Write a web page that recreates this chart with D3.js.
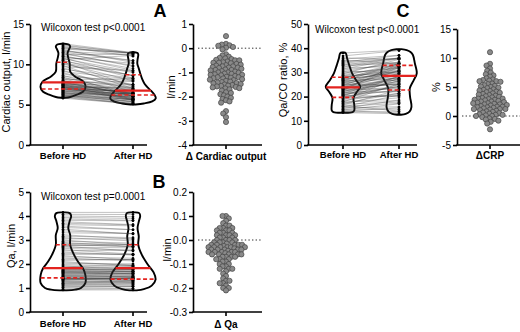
<!DOCTYPE html>
<html><head><meta charset="utf-8">
<script src="https://cdn.jsdelivr.net/npm/d3@7"></script>
<style>
body{margin:0;background:#fff}
svg{display:block}
text{font-family:"Liberation Sans",Arial,Helvetica,sans-serif;fill:#000}
</style>
</head><body>
<svg id="c" width="520" height="332"></svg>
<script>
// ---------------- DATA ----------------
const groups = ["Before HD", "After HD"];

// Panel A: cardiac output (l/min), paired before HD and change
const coBefore = [5.8,5.9,6.0,6.05,6.1,6.15,6.2,6.25,6.3,6.35,6.4,6.45,6.5,6.55,6.6,6.65,6.7,6.75,6.8,6.85,6.9,6.93,
6.96,7.0,7.03,7.06,7.1,7.13,7.16,7.2,7.23,7.26,7.3,7.33,7.36,7.4,7.43,7.46,7.5,7.54,7.58,7.62,7.66,7.7,7.75,
7.8,7.85,7.9,7.95,8.0,8.1,8.2,8.3,8.4,8.5,8.65,8.8,8.95,9.1,9.25,9.4,9.55,9.7,9.85,10.0,10.1,10.2,
10.3,10.4,10.5,10.6,10.7,10.8,10.9,11.0,11.1,11.2,11.3,11.4,11.5,11.6,11.7,11.8,11.9,12.0,12.1,12.2,12.3,12.4,12.55];
const coDelta = [-0.7,-0.8,-0.9,-0.6,-1.0,-0.5,-0.85,-1.05,0.1,-0.75,-1.1,-0.45,-0.95,-1.2,-0.62,-0.3,-1.15,-0.88,0.02,-1.25,-0.58,-0.72,
-1.3,-0.4,-1.4,0.15,-1.02,-1.5,-0.65,-1.45,-0.8,-1.55,-0.25,-1.6,-0.92,-1.35,-0.68,-1.65,-0.05,-1.18,-1.7,-0.82,-1.28,0.18,-1.48,
-1.75,-0.35,-1.82,-1.08,-1.9,0.12,-1.95,-1.22,-2.0,-0.55,-2.6,-1.32,-2.05,-0.97,-2.7,-1.12,-2.1,-0.48,-2.85,-1.38,-2.15,-1.58,
-3.05,-1.42,-2.2,0.5,-1.62,-2.25,-0.78,-1.52,-1.85,0.05,-1.44,-1.66,-1.06,-0.42,-1.24,-1.56,-0.5,-0.6,-0.75,-1.2,-0.9,-1.0,-1.1];
const coViolinBefore = [[12.56,0.06],[12.45,0.24],[12.2,0.3],[11.8,0.24],[11.4,0.19],[10.8,0.22],[10.1,0.28],[9.1,0.3],[8.5,0.5],[7.85,0.85],[7.2,0.94],[6.6,0.83],[6.2,0.55],[5.95,0.3],[5.85,0.08]];
const coViolinAfter = [[11.5,0.06],[11.4,0.19],[11.2,0.22],[10.6,0.19],[10.1,0.18],[9.5,0.24],[8.9,0.3],[8.2,0.38],[7.6,0.48],[7.1,0.62],[6.7,0.76],[6.2,0.9],[5.8,0.95],[5.4,0.8],[5.15,0.45],[5.02,0.1]];
const coQuartBefore = [6.94, 7.77, 10.25];
const coQuartAfter = [6.2, 6.73, 8.7];
const coTicks = [0, 5, 10, 15];
const coDeltaTicks = [-4, -3, -2, -1, 0, 1];

// Panel B: access flow Qa (l/min)
const qaBefore = [0.92,0.95,1.0,1.03,1.06,1.1,1.12,1.15,1.18,1.2,1.22,1.25,1.27,1.3,1.32,1.34,1.36,1.37,1.38,1.39,1.4,1.41,
1.43,1.45,1.47,1.49,1.5,1.52,1.54,1.56,1.58,1.6,1.62,1.63,1.65,1.67,1.68,1.7,1.72,1.74,1.75,1.77,1.79,1.8,1.82,
1.85,1.88,1.92,1.96,2.0,2.05,2.1,2.15,2.2,2.25,2.3,2.35,2.4,2.45,2.5,2.55,2.6,2.65,2.7,2.74,2.77,2.79,
2.82,2.86,2.9,2.95,3.0,3.05,3.1,3.16,3.22,3.3,3.38,3.45,3.52,3.58,3.64,3.7,3.76,3.82,3.88,3.94,4.0,4.07,4.15];
const qaDelta = [0.0,0.02,-0.01,0.03,0.01,-0.02,0.04,-0.03,0.05,-0.01,0.06,-0.04,0.02,-0.05,0.1,-0.02,0.08,-0.06,0.03,-0.03,0.01,-0.07,
-0.04,0.04,-0.08,0.0,-0.05,0.09,-0.03,-0.1,0.05,-0.06,-0.02,0.07,-0.09,-0.04,0.02,-0.11,-0.05,0.03,-0.07,-0.015,0.1,-0.035,-0.12,
-0.03,0.06,-0.16,-0.05,0.01,-0.08,-0.17,0.04,-0.02,-0.12,-0.06,-0.18,0.0,-0.045,-0.13,0.02,-0.19,-0.07,-0.025,-0.2,0.05,-0.055,
-0.1,-0.04,-0.17,-0.08,-0.21,-0.01,-0.14,-0.06,-0.18,-0.03,-0.11,-0.2,-0.09,-0.15,-0.05,-0.07,-0.12,-0.02,-0.06,-0.04,-0.03,-0.01,0.0];
const qaViolinBefore = [[4.15,0.1],[4.12,0.28],[4.0,0.34],[3.8,0.28],[3.5,0.22],[3.2,0.3],[2.8,0.3],[2.4,0.45],[2.1,0.62],[1.82,0.83],[1.55,0.93],[1.2,0.93],[1.0,0.75],[0.93,0.5],[0.9,0.15]];
const qaViolinAfter = [[4.15,0.1],[4.12,0.26],[4.0,0.3],[3.8,0.25],[3.5,0.19],[3.15,0.24],[2.8,0.22],[2.4,0.36],[2.0,0.6],[1.65,0.86],[1.35,0.94],[1.1,0.78],[0.95,0.45],[0.9,0.15]];
const qaQuartBefore = [1.42, 1.83, 2.8];
const qaQuartAfter = [1.37, 1.83, 2.8];
const qaTicks = [0, 1, 2, 3, 4, 5];
const qaDeltaTicks = [-0.3, -0.2, -0.1, 0.0, 0.1, 0.2];

// Panel C: Qa/CO ratio (%)
const ratioBefore = [13.4,13.6,13.9,14.2,14.5,14.8,15.1,15.4,15.7,16.0,16.3,16.6,16.9,17.2,17.5,17.8,18.1,18.4,18.7,19.0,19.3,19.6,
19.8,20.0,20.2,20.4,20.6,20.8,21.0,21.2,21.4,21.6,21.8,22.0,22.2,22.4,22.6,22.8,23.0,23.1,23.2,23.3,23.4,23.6,23.7,
23.9,24.0,24.2,24.4,24.6,24.8,25.0,25.2,25.4,25.6,25.8,26.0,26.2,26.4,26.6,26.8,27.0,27.2,27.4,27.6,27.8,27.95,
28.2,28.5,28.8,29.1,29.4,29.8,30.2,30.6,31.0,31.4,31.8,32.2,32.6,33.0,33.4,33.8,34.2,34.6,35.0,35.5,36.0,36.8,38.0];
const ratioDelta = [-0.5,0.2,1.5,-1.0,2.5,0.0,3.5,0.4,5.0,1.2,-2.3,6.2,0.8,4.2,2.0,7.5,0.1,3.0,9.0,1.8,5.6,0.6,
4.5,2.8,8.2,-0.2,6.0,3.3,1.1,7.0,2.2,4.8,0.3,6.5,3.7,1.6,11.0,2.6,5.2,0.0,4.0,8.7,2.9,1.4,5.9,
3.1,6.8,1.0,4.4,7.8,2.1,5.5,-0.4,3.9,6.3,1.7,4.9,2.4,7.2,0.9,3.6,5.3,2.7,6.1,1.3,4.6,3.2,
2.3,5.1,0.5,3.4,6.0,1.9,4.1,-0.8,2.5,4.3,0.7,3.8,1.5,3.0,0.2,2.0,2.8,1.2,-1.3,1.6,-0.6,2.2,1.2];
const ratioViolinBefore = [[38.2,0.04],[37.9,0.12],[35.8,0.17],[33,0.26],[29.6,0.38],[26.9,0.54],[24.1,0.72],[22,0.58],[19.5,0.44],[16.5,0.47],[14.3,0.47],[13.6,0.4],[13.3,0.1]];
const ratioViolinAfter = [[39.6,0.1],[39.2,0.32],[38.4,0.48],[37.2,0.58],[33.8,0.66],[29.6,0.74],[26.9,0.62],[23.4,0.45],[20,0.46],[15.8,0.52],[13.8,0.44],[12.9,0.28],[12.5,0.08]];
const ratioQuartBefore = [19.7, 23.8, 28];
const ratioQuartAfter = [22.7, 28.6, 32.9];
const ratioTicks = [0, 10, 20, 30, 40, 50];
const ratioDeltaTicks = [-5, 0, 5, 10, 15];

// ---------------- DRAWING ----------------
const svg = d3.select("#c");
const RED = "#e3231f";
const HW = 24; // violin max half width, px
const intFmt = d => String(d);

function styleAxis(g) {
  g.selectAll(".domain").attr("stroke", "#000").attr("stroke-width", 1.6);
  g.selectAll(".tick line").attr("stroke", "#000").attr("stroke-width", 1.6);
  g.selectAll(".tick text").attr("font-size", 10).attr("fill", "#000")
   .style("font-family", '"Liberation Sans",Arial,sans-serif');
}

function yTitle(text, x, y) {
  svg.append("text").attr("transform", `translate(${x},${y}) rotate(-90)`)
    .attr("text-anchor", "middle").attr("font-size", 11).text(text);
}

function violinPanel(c) {
  const y = d3.scaleLinear().domain(c.domain).range([c.yBot, c.yTop]);
  const x = d3.scalePoint().domain(groups).range(c.catRange);
  const after = c.before.map((v, i) => v + c.delta[i]);
  const g = svg.append("g");

  const vdata = [c.violins[0], c.violins[1]];
  vdata.forEach((prof, k) => {
    const cx = x(groups[k]);
    const area = d3.area()
      .y(d => y(d[0]))
      .x0(d => cx - d[1] * HW)
      .x1(d => cx + d[1] * HW)
      .curve(d3.curveCatmullRom.alpha(0.5));
    g.append("path").datum(prof).attr("d", area)
      .attr("fill", "#fff").attr("stroke", "#000").attr("stroke-width", 1.9)
      .attr("stroke-linejoin", "round");
  });

  g.append("g").selectAll("line").data(c.before).join("line")
    .attr("x1", x(groups[0])).attr("x2", x(groups[1]))
    .attr("y1", d => y(d)).attr("y2", (d, i) => y(after[i]))
    .attr("stroke", "#333").attr("stroke-opacity", 0.5).attr("stroke-width", 0.6);

  [c.before, after].forEach((vals, k) => {
    g.append("g").selectAll("circle").data(vals).join("circle")
      .attr("cx", x(groups[k])).attr("cy", d => y(d)).attr("r", 1.3)
      .attr("fill", "#000");
  });

  vdata.forEach((prof, k) => {
    const cx = x(groups[k]);
    const wAt = d3.scaleLinear().domain(prof.map(d => d[0])).range(prof.map(d => d[1] * HW));
    c.quarts[k].forEach((q, j) => {
      const w = wAt(q);
      g.append("line").attr("x1", cx - w).attr("x2", cx + w)
        .attr("y1", y(q)).attr("y2", y(q))
        .attr("stroke", RED)
        .attr("stroke-width", j === 1 ? 2.2 : 1.6)
        .attr("stroke-dasharray", j === 1 ? null : "4,2.5");
    });
  });

  const ya = svg.append("g").attr("transform", `translate(${c.x0},0)`)
    .call(d3.axisLeft(y).tickValues(c.ticks).tickSize(4).tickSizeOuter(0).tickPadding(2).tickFormat(intFmt));
  styleAxis(ya);
  svg.append("line").attr("x1", c.x0 - 0.8).attr("x2", c.x1).attr("y1", c.yBot).attr("y2", c.yBot)
    .attr("stroke", "#000").attr("stroke-width", 1.6);
  groups.forEach(gname => {
    svg.append("line").attr("x1", x(gname)).attr("x2", x(gname))
      .attr("y1", c.yBot).attr("y2", c.yBot + 4).attr("stroke", "#000").attr("stroke-width", 1.6);
    svg.append("text").attr("x", x(gname)).attr("y", c.catLabelY).attr("text-anchor", "middle")
      .attr("font-size", 9.5).attr("font-weight", "bold").text(gname);
  });
  yTitle(c.yTitle, c.yTitleX, c.yTitleY);
  svg.append("text").attr("x", c.noteX).attr("y", c.noteY).attr("font-size", 10).text(c.note);
}

function swarm(values, y, cx, minDist) {
  const pts = values.map(v => ({ v, y: y(v) })).sort((a, b) => a.y - b.y);
  const placed = [];
  pts.forEach(p => {
    let chosen = 0;
    for (let s = 0; s < 80; s++) {
      const off = (s % 2 === 0 ? 1 : -1) * Math.ceil(s / 2) * 0.7;
      const ok = placed.every(q => {
        const dy = q.y - p.y, dx = q.x - (cx + off);
        return dx * dx + dy * dy >= minDist * minDist;
      });
      if (ok) { chosen = off; break; }
    }
    p.x = cx + chosen;
    placed.push(p);
  });
  return placed;
}

function deltaPanel(c) {
  const y = d3.scaleLinear().domain(c.domain).range([c.yBot, c.yTop]);
  const x = d3.scalePoint().domain([c.label]).range([c.cx, c.cx]);
  svg.append("line").attr("x1", c.x0 + 5).attr("x2", c.x1).attr("y1", y(0)).attr("y2", y(0))
    .attr("stroke", "#333").attr("stroke-width", 1).attr("stroke-dasharray", "1.4,2.2");
  const pts = swarm(c.values, y, x(c.label), c.spread);
  svg.append("g").selectAll("circle").data(pts).join("circle")
    .attr("cx", d => d.x).attr("cy", d => d.y).attr("r", 2.6)
    .attr("fill", "#8a8a8a").attr("stroke", "#454545").attr("stroke-width", 0.7);
  const ya = svg.append("g").attr("transform", `translate(${c.x0},0)`)
    .call(d3.axisLeft(y).tickValues(c.ticks).tickSize(4).tickSizeOuter(0).tickPadding(2)
      .tickFormat(c.fmt || intFmt));
  styleAxis(ya);
  svg.append("line").attr("x1", c.x0 - 0.8).attr("x2", c.x1).attr("y1", c.yBot).attr("y2", c.yBot)
    .attr("stroke", "#000").attr("stroke-width", 1.6);
  svg.append("line").attr("x1", x(c.label)).attr("x2", x(c.label))
    .attr("y1", c.yBot).attr("y2", c.yBot + 4).attr("stroke", "#000").attr("stroke-width", 1.6);
  svg.append("text").attr("x", x(c.label)).attr("y", c.labelY).attr("text-anchor", "middle")
    .attr("font-size", 10).attr("font-weight", "bold").text(c.label);
  yTitle(c.yTitle, c.yTitleX, c.yTitleY);
}

function letter(t, x, y) {
  svg.append("text").attr("x", x).attr("y", y).attr("text-anchor", "middle")
    .attr("font-size", 18).attr("font-weight", "bold").text(t);
}

// Panel A
violinPanel({ x0: 30, x1: 147, yTop: 24, yBot: 145, domain: [0, 15], ticks: coTicks,
  catRange: [63, 133], before: coBefore, delta: coDelta,
  violins: [coViolinBefore, coViolinAfter], quarts: [coQuartBefore, coQuartAfter],
  catLabelY: 159, yTitle: "Cardiac output, l/min", yTitleX: 10, yTitleY: 82,
  note: "Wilcoxon test p<0.0001", noteX: 41, noteY: 31 });
deltaPanel({ x0: 193, x1: 262, yTop: 24, yBot: 145, domain: [-4, 1], ticks: coDeltaTicks,
  cx: 226, values: coDelta, spread: 3.7, label: "\u0394 Cardiac output", labelY: 160,
  yTitle: "l/min", yTitleX: 175, yTitleY: 87 });
letter("A", 160, 17);

// Panel B
violinPanel({ x0: 30, x1: 147, yTop: 192, yBot: 312, domain: [0, 5], ticks: qaTicks,
  catRange: [63, 133], before: qaBefore, delta: qaDelta,
  violins: [qaViolinBefore, qaViolinAfter], quarts: [qaQuartBefore, qaQuartAfter],
  catLabelY: 327, yTitle: "Qa, l/min", yTitleX: 15, yTitleY: 246,
  note: "Wilcoxon test p=0.0001", noteX: 41, noteY: 200 });
deltaPanel({ x0: 193, x1: 262, yTop: 192, yBot: 312, domain: [-0.3, 0.2], ticks: qaDeltaTicks,
  cx: 226, values: qaDelta, spread: 3.4, label: "\u0394 Qa", labelY: 328, fmt: d => d.toFixed(1),
  yTitle: "l/min", yTitleX: 171, yTitleY: 250 });
letter("B", 159, 188);

// Panel C
violinPanel({ x0: 308, x1: 417, yTop: 24, yBot: 145, domain: [0, 50], ticks: ratioTicks,
  catRange: [343, 399], before: ratioBefore, delta: ratioDelta,
  violins: [ratioViolinBefore, ratioViolinAfter], quarts: [ratioQuartBefore, ratioQuartAfter],
  catLabelY: 158, yTitle: "Qa/CO ratio, %", yTitleX: 287, yTitleY: 80,
  note: "Wilcoxon test p<0.0001", noteX: 315, noteY: 33 });
deltaPanel({ x0: 457, x1: 520, yTop: 29, yBot: 145, domain: [-5, 15], ticks: ratioDeltaTicks,
  cx: 490, values: ratioDelta, spread: 3.6, label: "\u0394CRP", labelY: 159,
  yTitle: "%", yTitleX: 440, yTitleY: 87 });
letter("C", 403, 17);
</script>
</body></html>
